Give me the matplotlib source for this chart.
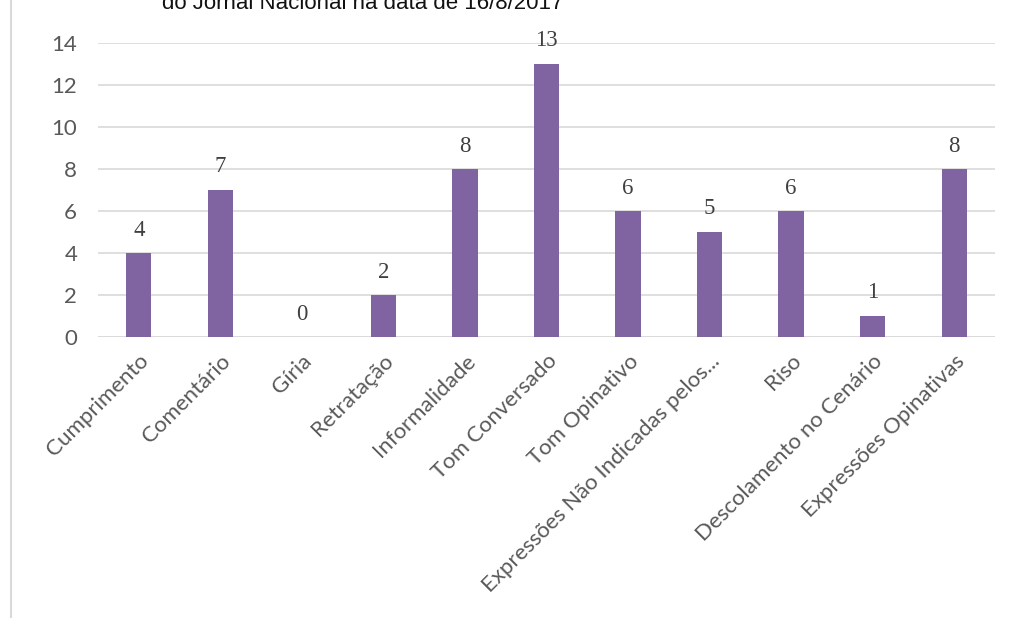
import matplotlib.pyplot as plt
from matplotlib.patches import Rectangle

categorias = ["Cumprimento", "Comentário", "Gíria", "Retratação", "Informalidade",
              "Tom Conversado", "Tom Opinativo", "Expressões Não Indicadas pelos...",
              "Riso", "Descolamento no Cenário", "Expressões Opinativas"]
ocorrencias = [4, 7, 0, 2, 8, 13, 6, 5, 6, 1, 8]
y_ticks = [0, 2, 4, 6, 8, 10, 12, 14]

roxo = "#8064a2"
cinza_texto = "#595959"
cinza_grade = "#d9d9d9"

fig = plt.figure(figsize=(10.13, 6.18), dpi=100)
fig.patch.set_facecolor("white")

# moldura do gráfico (cortada à direita e embaixo)
fig.patches.append(Rectangle((11 / 1013, -0.2), 1.2, 1.2 + (1 - 13 / 618),
                             transform=fig.transFigure, fill=False,
                             edgecolor=cinza_grade, linewidth=1.5, clip_on=False))

# título, só a parte de baixo aparece no topo
fig.text(162 / 1013, 1 - 9 / 618, "do Jornal Nacional na data de 16/8/2017",
         fontsize=16, family="Liberation Sans", color="#111111",
         ha="left", va="baseline")

ax = fig.add_axes([98 / 1013, 1 - 337 / 618, (995 - 98) / 1013, (337 - 43) / 618])
x = list(range(len(categorias)))
ax.bar(x, ocorrencias, width=0.31, color=roxo, zorder=3)

ax.set_xlim(-0.5, len(categorias) - 0.5)
ax.set_ylim(0, 14)
ax.set_yticks(y_ticks)
ax.yaxis.grid(True, color=cinza_grade, linewidth=1.2, zorder=0)
ax.tick_params(axis="both", length=0, colors=cinza_texto)
ax.tick_params(axis="y", pad=15, labelsize=16)
for lbl in ax.get_yticklabels():
    lbl.set_family("Lato")

ax.set_xticks(x)
ax.set_xticklabels(categorias, rotation=45, ha="right", rotation_mode="anchor",
                   family="Lato", fontsize=16, color=cinza_texto)
ax.tick_params(axis="x", pad=10)

for s in ax.spines.values():
    s.set_visible(False)
ax.axhline(0, color=cinza_grade, linewidth=1.2, zorder=2)

for xi, v in zip(x, ocorrencias):
    ax.annotate(str(v), (xi, v), xytext=(0, 9), textcoords="offset points",
                ha="center", va="bottom", fontsize=16.5,
                family="Liberation Serif", color="#404040")

fig.savefig("out.png", dpi=100)
